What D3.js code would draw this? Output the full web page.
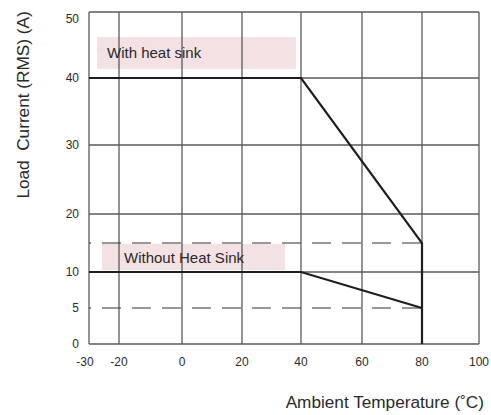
<!DOCTYPE html>
<html>
<head>
<meta charset="utf-8">
<script src="https://cdn.jsdelivr.net/npm/d3@7"></script>
<style>
  html, body { margin: 0; padding: 0; background: #fff; }
  svg { display: block; font-family: "Liberation Sans", Arial, sans-serif; }
  text { white-space: pre; }
</style>
</head>
<body>
<svg id="chart" width="491" height="415"></svg>
<script>
// ---- data ----
const tempTicks = [-30, -20, 0, 20, 40, 60, 80, 100];
const currentTicks = [0, 5, 10, 20, 30, 40, 50];
const gridTemps = [-20, 0, 20, 40, 60, 80, 100];
const gridCurrents = [10, 20, 30, 40, 50];
const withSinkTemp = [-30, 40, 80, 80];
const withSinkCurrent = [40, 40, 15, 0];
const withoutSinkTemp = [-30, 40, 80];
const withoutSinkCurrent = [10, 10, 5];
const dashedCurrents = [15, 5];
const dashedTemps = [-30, 80];
const labels = ["With heat sink", "Without Heat Sink"];
const xTitle = "Ambient Temperature (\u02DAC)";
const yTitle = "Load  Current (RMS) (A)";

// ---- scales (piecewise to follow the printed grid) ----
const x = d3.scaleLinear()
  .domain([-30, -20, 0, 20, 40, 60, 80, 100])
  .range([89, 119, 182, 242, 301, 362, 422, 479]);
const y = d3.scaleLinear()
  .domain([0, 5, 10, 20, 30, 40, 50])
  .range([344, 308, 272, 214, 145, 78, 12]);

const svg = d3.select("#chart");
const gridColor = "#5a5a5a";
const ink = "#1e1e1e";
const textColor = "#2a2a2a";

// label boxes (drawn under grid)
const boxes = [
  { x0: 97, x1: 296, y0: 37, y1: 69, tx: 107, ty: 58, text: labels[0] },
  { x0: 102, x1: 285, y0: 244, y1: 270, tx: 124, ty: 263, text: labels[1] }
];
svg.selectAll("rect.lbl").data(boxes).join("rect")
  .attr("class", "lbl")
  .attr("x", d => d.x0).attr("y", d => d.y0)
  .attr("width", d => d.x1 - d.x0).attr("height", d => d.y1 - d.y0)
  .attr("fill", "#f3e1e3");

// grid
svg.selectAll("line.vg").data(gridTemps).join("line")
  .attr("class", "vg")
  .attr("x1", d => x(d)).attr("x2", d => x(d))
  .attr("y1", y(0)).attr("y2", y(50))
  .attr("stroke", gridColor).attr("stroke-width", 1.3);
svg.selectAll("line.hg").data(gridCurrents).join("line")
  .attr("class", "hg")
  .attr("x1", x(-30)).attr("x2", x(100))
  .attr("y1", d => y(d)).attr("y2", d => y(d))
  .attr("stroke", gridColor).attr("stroke-width", 1.3);

// axes frame (left & bottom)
svg.append("line").attr("x1", x(-30)).attr("x2", x(-30)).attr("y1", y(0)).attr("y2", y(50))
  .attr("stroke", gridColor).attr("stroke-width", 1.3);
svg.append("line").attr("x1", x(-30)).attr("x2", x(100)).attr("y1", y(0)).attr("y2", y(0))
  .attr("stroke", gridColor).attr("stroke-width", 1.3);

// dashed levels
svg.selectAll("line.dash").data(dashedCurrents).join("line")
  .attr("class", "dash")
  .attr("x1", x(dashedTemps[0])).attr("x2", x(dashedTemps[1]))
  .attr("y1", d => y(d)).attr("y2", d => y(d))
  .attr("stroke", "#333").attr("stroke-width", 1.2)
  .attr("stroke-dasharray", "19,11").attr("stroke-dashoffset", 17);

// label texts
svg.selectAll("text.lbl").data(boxes).join("text")
  .attr("class", "lbl")
  .attr("x", d => d.tx).attr("y", d => d.ty)
  .attr("font-size", 15).attr("fill", textColor)
  .text(d => d.text);

// derating curves
const line = d3.line().x(d => x(d[0])).y(d => y(d[1]));
svg.append("path")
  .datum(withSinkTemp.map((t, i) => [t, withSinkCurrent[i]]))
  .attr("d", line).attr("fill", "none").attr("stroke", ink).attr("stroke-width", 2.2)
  .attr("stroke-linejoin", "miter");
svg.append("path")
  .datum(withoutSinkTemp.map((t, i) => [t, withoutSinkCurrent[i]]))
  .attr("d", line).attr("fill", "none").attr("stroke", ink).attr("stroke-width", 2.2);

// tick labels
svg.selectAll("text.yt").data(currentTicks).join("text")
  .attr("class", "yt")
  .attr("x", 79).attr("y", d => y(d) + (d === 50 ? 7 : 0))
  .attr("dy", "0.35em").attr("text-anchor", "end")
  .attr("font-size", 12).attr("fill", textColor)
  .text(d => d);
svg.selectAll("text.xt").data(tempTicks).join("text")
  .attr("class", "xt")
  .attr("x", d => x(d) + (d === -30 ? -4 : 0)).attr("y", 366)
  .attr("text-anchor", "middle")
  .attr("font-size", 12).attr("fill", textColor)
  .text(d => d);

// axis titles
svg.append("text")
  .attr("x", 484).attr("y", 408).attr("text-anchor", "end")
  .attr("font-size", 17.2).attr("fill", textColor)
  .text(xTitle);
svg.append("text")
  .attr("transform", "translate(29,105) rotate(-90)")
  .attr("text-anchor", "middle")
  .attr("font-size", 17.2).attr("fill", textColor)
  .text(yTitle);
</script>
</body>
</html>
